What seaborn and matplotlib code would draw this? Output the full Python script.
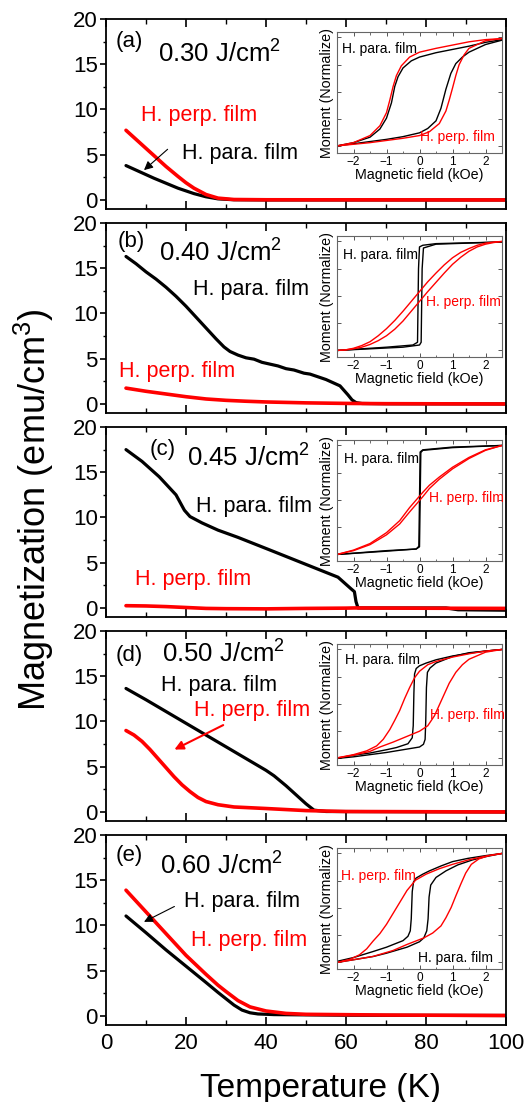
import matplotlib
matplotlib.use("Agg")
import matplotlib.pyplot as plt
from matplotlib.ticker import MultipleLocator
import pandas as pd
import seaborn as sns

sns.set_style("ticks")
plt.rcParams['font.family'] = ['Liberation Sans', 'DejaVu Sans']
plt.rcParams.update({
    "text.color": "black", "axes.labelcolor": "black",
    "xtick.color": "black", "ytick.color": "black", "axes.edgecolor": "black",
    "mathtext.fontset": "custom", "mathtext.rm": "Liberation Sans",
    "mathtext.it": "Liberation Sans:italic", "mathtext.bf": "Liberation Sans:bold",
})

RED = "#ff0000"
BLACK = "#000000"

# ---------------- M(T) curves, Temperature (K) vs Magnetization (emu/cm3) ----------------
# (a) 0.30 J/cm2
Ta_para = [5, 8, 10, 12, 15, 18, 20, 22, 25, 28, 32, 40, 100]
Ma_para = [3.8, 3.2, 2.8, 2.4, 1.85, 1.3, 1.0, 0.7, 0.35, 0.12, 0.02, 0.0, 0.0]
Ta_perp = [5, 8, 10, 12, 15, 18, 20, 22, 25, 28, 32, 40, 100]
Ma_perp = [7.7, 6.5, 5.7, 4.9, 3.7, 2.6, 1.9, 1.3, 0.6, 0.2, 0.05, 0.02, 0.0]

# (b) 0.40 J/cm2
Tb_para = [5, 7.5, 10, 12.5, 15, 17.5, 20, 22.5, 25, 27.5, 29.5, 31, 33, 35, 37, 39, 41, 43,
           45, 47, 49.5, 51, 53, 55, 57, 58.5, 59.5, 60.5, 61.5, 62.5, 64, 70, 100]
Mb_para = [16.3, 15.5, 14.6, 13.8, 12.9, 11.9, 10.8, 9.6, 8.4, 7.2, 6.3, 5.8, 5.4, 5.1, 4.95,
           4.6, 4.4, 4.2, 3.9, 3.75, 3.4, 3.3, 3.0, 2.7, 2.3, 2.0, 1.5, 1.0, 0.45, 0.15, 0.05,
           0.02, 0.0]
Tb_perp = [5, 10, 15, 20, 25, 30, 35, 40, 50, 60, 70, 100]
Mb_perp = [1.75, 1.4, 1.1, 0.8, 0.55, 0.4, 0.3, 0.22, 0.12, 0.06, 0.03, 0.0]

# (c) 0.45 J/cm2
Tc_para = [5, 9, 13.3, 17.5, 19.6, 21, 24, 28, 33, 41, 49.5, 58, 61.3, 62.1, 62.5, 63, 70, 85,
           88, 100]
Mc_para = [17.5, 16.2, 14.5, 12.5, 10.8, 10.1, 9.4, 8.6, 7.8, 6.4, 4.9, 3.4, 2.1, 1.8, 0.7,
           0.0, 0.0, 0.0, -0.2, -0.25]
Tc_perp = [5, 10, 15, 20, 25, 30, 40, 50, 60, 62, 80, 100]
Mc_perp = [0.25, 0.22, 0.15, 0.05, -0.05, -0.08, -0.1, -0.05, -0.02, 0.0, -0.03, -0.05]

# (d) 0.50 J/cm2
Td_para = [5, 10, 20, 30, 40, 42, 45, 48, 50, 52, 55, 100]
Md_para = [13.65, 12.4, 9.8, 7.2, 4.6, 4.0, 2.9, 1.7, 0.9, 0.2, 0.05, 0.0]
Td_perp = [5, 7, 9, 11, 13, 15, 17, 19, 21, 23, 25, 28, 32, 40, 50, 60, 100]
Md_perp = [9.0, 8.5, 7.8, 6.9, 5.9, 4.9, 3.9, 3.0, 2.25, 1.6, 1.15, 0.8, 0.55, 0.38, 0.15,
           0.05, 0.0]

# (e) 0.60 J/cm2
Te_para = [5, 10, 15, 20, 25, 28, 30, 32, 34, 36, 38, 42, 60, 100]
Me_para = [11.05, 9.2, 7.3, 5.5, 3.7, 2.6, 1.9, 1.2, 0.65, 0.35, 0.22, 0.15, 0.08, 0.05]
Te_perp = [5, 10, 15, 20, 25, 28, 30, 33, 36, 40, 45, 50, 70, 100]
Me_perp = [13.9, 11.5, 9.1, 6.7, 4.6, 3.4, 2.7, 1.7, 1.0, 0.55, 0.28, 0.18, 0.1, 0.05]

# ---------------- M(H) loops, field (kOe) vs normalized moment ----------------
# each loop: descending branch (from +H) and ascending branch (from -H)
la_para_dn_H = [2.5, 2.0, 1.5, 1.0, 0.5, 0.0, -0.25, -0.5, -0.65, -0.75, -0.85, -1.0, -1.2,
                -1.5, -2.0, -2.5]
la_para_dn_M = [0.96, 0.91, 0.84, 0.78, 0.72, 0.64, 0.57, 0.44, 0.28, 0.1, -0.2, -0.48, -0.68,
                -0.83, -0.93, -0.99]
la_para_up_H = [-2.5, -2, -1.5, -1, -0.5, 0, 0.25, 0.5, 0.65, 0.8, 0.95, 1.1, 1.3, 1.5, 2, 2.5]
la_para_up_M = [-0.99, -0.95, -0.91, -0.87, -0.82, -0.75, -0.67, -0.53, -0.3, 0.05, 0.34, 0.52,
                0.64, 0.73, 0.87, 0.95]
la_perp_dn_H = [2.5, 2, 1.5, 1, 0.5, 0, -0.3, -0.55, -0.7, -0.8, -0.9, -1.0, -1.2, -1.5, -2,
                -2.5]
la_perp_dn_M = [0.98, 0.96, 0.92, 0.86, 0.8, 0.73, 0.64, 0.48, 0.3, 0.1, -0.15, -0.38, -0.62,
                -0.8, -0.93, -0.99]
la_perp_up_H = [-2.5, -2, -1.5, -1, -0.5, 0, 0.3, 0.6, 0.8, 0.9, 1.0, 1.1, 1.2, 1.35, 1.5, 2,
                2.5]
la_perp_up_M = [-0.99, -0.96, -0.93, -0.89, -0.85, -0.8, -0.73, -0.58, -0.35, -0.15, 0.07, 0.3,
                0.5, 0.68, 0.8, 0.94, 0.98]

lb_para_dn_H = [2.5, 0.5, 0.1, 0.0, -0.03, -0.06, -0.2, -1, -2.5]
lb_para_dn_M = [0.99, 0.96, 0.93, 0.9, 0.5, -0.85, -0.9, -0.94, -1.0]
lb_para_up_H = [-2.5, -0.5, 0.0, 0.05, 0.08, 0.12, 0.5, 2.5]
lb_para_up_M = [-1.0, -0.94, -0.9, -0.85, 0.5, 0.88, 0.95, 0.99]
lb_perp_dn_H = [2.5, 2.25, 2, 1.75, 1.5, 1.25, 1, 0.75, 0.5, 0.25, 0, -0.25, -0.5, -0.75, -1,
                -1.25, -1.5, -1.75, -2, -2.25, -2.5]
lb_perp_dn_M = [1.0, 0.99, 0.97, 0.93, 0.87, 0.8, 0.7, 0.57, 0.42, 0.26, 0.08, -0.1, -0.28,
                -0.45, -0.6, -0.73, -0.84, -0.91, -0.96, -0.99, -1.0]
lb_perp_up_H = [-2.5, -2.25, -2, -1.75, -1.5, -1.25, -1, -0.75, -0.5, -0.25, 0, 0.25, 0.5, 0.75,
                1, 1.25, 1.5, 1.75, 2, 2.25, 2.5]
lb_perp_up_M = [-1.0, -0.99, -0.97, -0.94, -0.89, -0.82, -0.73, -0.61, -0.46, -0.28, -0.1,
                0.08, 0.25, 0.42, 0.58, 0.71, 0.82, 0.9, 0.95, 0.98, 1.0]

lc_para_dn_H = [2.5, 1, 0.1, 0.02, -0.02, -0.1, -1, -2.5]
lc_para_dn_M = [1.0, 0.97, 0.92, 0.88, -0.85, -0.9, -0.93, -1.0]
lc_para_up_H = [-2.5, -1, -0.1, 0.0, 0.04, 0.1, 1, 2.5]
lc_para_up_M = [-1.0, -0.94, -0.9, -0.86, 0.87, 0.91, 0.96, 1.0]
lc_perp_dn_H = [2.5, 2.0, 1.5, 1.0, 0.6, 0.3, 0.1, -0.1, -0.3, -0.6, -1.0, -1.5, -2, -2.5]
lc_perp_dn_M = [1.0, 0.92, 0.78, 0.6, 0.42, 0.27, 0.14, 0.0, -0.14, -0.38, -0.6, -0.8, -0.92,
                -1.0]
lc_perp_up_H = [-2.5, -2, -1.5, -1, -0.6, -0.3, -0.1, 0.1, 0.3, 0.6, 1.0, 1.5, 2, 2.5]
lc_perp_up_M = [-1.0, -0.93, -0.82, -0.64, -0.44, -0.22, -0.08, 0.06, 0.21, 0.38, 0.57, 0.76,
                0.91, 1.0]

ld_para_dn_H = [2.5, 2, 1.5, 1, 0.5, 0.2, 0, -0.1, -0.15, -0.17, -0.19, -0.22, -0.35, -0.7, -1,
                -1.5, -2, -2.5]
ld_para_dn_M = [1.0, 0.97, 0.93, 0.88, 0.81, 0.75, 0.7, 0.65, 0.55, 0.2, -0.4, -0.62, -0.73,
                -0.8, -0.84, -0.9, -0.94, -1.0]
ld_para_up_H = [-2.5, -2, -1.5, -1, -0.5, 0, 0.12, 0.17, 0.19, 0.21, 0.24, 0.32, 0.5, 1, 1.5,
                2, 2.5]
ld_para_up_M = [-1.0, -0.97, -0.93, -0.89, -0.84, -0.79, -0.74, -0.65, -0.3, 0.3, 0.58, 0.66,
                0.75, 0.87, 0.94, 0.97, 1.0]
ld_perp_dn_H = [2.5, 2, 1.5, 1, 0.5, 0.25, 0, -0.15, -0.3, -0.45, -0.6, -0.75, -0.9, -1.1, -1.3,
                -1.6, -2, -2.5]
ld_perp_dn_M = [1.0, 0.97, 0.92, 0.86, 0.78, 0.72, 0.6, 0.48, 0.3, 0.1, -0.12, -0.3, -0.47,
                -0.65, -0.77, -0.86, -0.93, -0.99]
ld_perp_up_H = [-2.5, -2, -1.5, -1.2, -0.8, -0.4, 0, 0.25, 0.45, 0.6, 0.75, 0.9, 1.1, 1.3, 1.5,
                2, 2.5]
ld_perp_up_M = [-0.99, -0.94, -0.87, -0.79, -0.7, -0.6, -0.5, -0.4, -0.22, -0.02, 0.18, 0.38,
                0.58, 0.72, 0.82, 0.95, 1.0]

le_para_dn_H = [2.5, 2, 1.47, 1, 0.65, 0.3, 0.1, -0.1, -0.18, -0.22, -0.25, -0.28, -0.35, -0.5,
                -1, -1.41, -2, -2.5]
le_para_dn_M = [1.0, 0.96, 0.91, 0.85, 0.77, 0.68, 0.62, 0.55, 0.48, 0.3, -0.2, -0.42, -0.52,
                -0.6, -0.72, -0.8, -0.91, -0.98]
le_para_up_H = [-2.5, -2, -1.4, -1, -0.38, 0, 0.13, 0.22, 0.26, 0.29, 0.34, 0.5, 0.8, 1.16,
                1.6, 2, 2.5]
le_para_up_M = [-1.0, -0.95, -0.89, -0.83, -0.72, -0.62, -0.55, -0.42, -0.2, 0.2, 0.42, 0.56,
                0.68, 0.79, 0.88, 0.94, 1.0]
le_perp_dn_H = [2.5, 2, 1.47, 1, 0.6, 0.2, -0.12, -0.38, -0.55, -0.69, -0.85, -1.0, -1.2, -1.41,
                -1.6, -1.82, -2.1, -2.5]
le_perp_dn_M = [1.0, 0.95, 0.88, 0.8, 0.72, 0.62, 0.51, 0.32, 0.15, 0.01, -0.15, -0.3, -0.47,
                -0.61, -0.75, -0.86, -0.94, -1.0]
le_perp_up_H = [-2.5, -2, -1.41, -0.8, -0.38, 0.13, 0.4, 0.65, 0.8, 0.96, 1.1, 1.26, 1.4, 1.57,
                1.8, 2.1, 2.5]
le_perp_up_M = [-1.0, -0.95, -0.89, -0.78, -0.67, -0.55, -0.46, -0.33, -0.18, 0.01, 0.22, 0.45,
                0.64, 0.8, 0.9, 0.96, 1.0]

panels = [
    dict(tag="(a)", fluence="0.30 J/cm$^{2}$",
         para=(Ta_para, Ma_para), perp=(Ta_perp, Ma_perp),
         loops=[(la_para_dn_H, la_para_dn_M, la_para_up_H, la_para_up_M, BLACK),
                (la_perp_dn_H, la_perp_dn_M, la_perp_up_H, la_perp_up_M, RED)],
         tag_xy=(2.4, 17.5), flu_xy=(13.1, 16.1),
         para_txt=(19.0, 5.1), perp_txt=(8.7, 9.3),
         arrow=((15.4, 5.6), (9.5, 3.3), BLACK, 0.8),
         ipara=(-2.35, 0.79), iperp=(0.02, -0.83)),
    dict(tag="(b)", fluence="0.40 J/cm$^{2}$",
         para=(Tb_para, Mb_para), perp=(Tb_perp, Mb_perp),
         loops=[(lb_para_dn_H, lb_para_dn_M, lb_para_up_H, lb_para_up_M, BLACK),
                (lb_perp_dn_H, lb_perp_dn_M, lb_perp_up_H, lb_perp_up_M, RED)],
         tag_xy=(2.8, 18.0), flu_xy=(13.3, 16.7),
         para_txt=(21.7, 12.6), perp_txt=(3.2, 3.6), arrow=None,
         ipara=(-2.32, 0.75), iperp=(0.2, -0.11)),
    dict(tag="(c)", fluence="0.45 J/cm$^{2}$",
         para=(Tc_para, Mc_para), perp=(Tc_perp, Mc_perp),
         loops=[(lc_para_dn_H, lc_para_dn_M, lc_para_up_H, lc_para_up_M, BLACK),
                (lc_perp_dn_H, lc_perp_dn_M, lc_perp_up_H, lc_perp_up_M, RED)],
         tag_xy=(10.8, 17.5), flu_xy=(20.3, 16.6),
         para_txt=(22.4, 11.2), perp_txt=(7.2, 3.1), arrow=None,
         ipara=(-2.3, 0.76), iperp=(0.3, 0.03)),
    dict(tag="(d)", fluence="0.50 J/cm$^{2}$",
         para=(Td_para, Md_para), perp=(Td_perp, Md_perp),
         loops=[(ld_para_dn_H, ld_para_dn_M, ld_para_up_H, ld_para_up_M, BLACK),
                (ld_perp_dn_H, ld_perp_dn_M, ld_perp_up_H, ld_perp_up_M, RED)],
         tag_xy=(2.4, 17.3), flu_xy=(14.1, 17.5),
         para_txt=(13.7, 14.0), perp_txt=(21.9, 11.25),
         arrow=((29.3, 9.6), (17.1, 6.9), RED, 1.5),
         ipara=(-2.25, 0.81), iperp=(0.32, -0.21)),
    dict(tag="(e)", fluence="0.60 J/cm$^{2}$",
         para=(Te_para, Me_para), perp=(Te_perp, Me_perp),
         loops=[(le_para_dn_H, le_para_dn_M, le_para_up_H, le_para_up_M, BLACK),
                (le_perp_dn_H, le_perp_dn_M, le_perp_up_H, le_perp_up_M, RED)],
         tag_xy=(2.4, 17.7), flu_xy=(13.5, 16.6),
         para_txt=(19.6, 12.7), perp_txt=(21.3, 8.35),
         arrow=((17.1, 12.1), (9.5, 10.4), BLACK, 0.8),
         ipara=(-0.06, -0.91), iperp=(-2.38, 0.58)),
]

W, H = 532, 1102
fig = plt.figure(figsize=(W / 100, H / 100), dpi=100)

AX_L, AX_R = 106, 506
PANEL_H = 190
TOPS = [19, 223, 427, 631, 835]
IN_L, IN_R = 337, 502
IN_DY, IN_H = 13, 121


def frac_box(x0, y0, x1, y1):
    return [x0 / W, 1 - y1 / H, (x1 - x0) / W, (y1 - y0) / H]


for i, p in enumerate(panels):
    top = TOPS[i]
    ax = fig.add_axes(frac_box(AX_L, top, AX_R, top + PANEL_H))
    dfp = pd.DataFrame({"T": p["perp"][0], "M": p["perp"][1]})
    dfa = pd.DataFrame({"T": p["para"][0], "M": p["para"][1]})
    sns.lineplot(data=dfa, x="T", y="M", ax=ax, color=BLACK, lw=2.3,
                 estimator=None, sort=False)
    sns.lineplot(data=dfp, x="T", y="M", ax=ax, color=RED, lw=2.6,
                 estimator=None, sort=False)
    ax.set_xlim(0, 100)
    ax.set_ylim(-1, 20)
    ax.xaxis.set_major_locator(MultipleLocator(20))
    ax.xaxis.set_minor_locator(MultipleLocator(10))
    ax.yaxis.set_major_locator(MultipleLocator(5))
    ax.yaxis.set_minor_locator(MultipleLocator(2.5))
    ax.tick_params(axis="x", which="both", direction="in", top=True, bottom=True,
                   labelsize=16, pad=6)
    ax.tick_params(axis="x", which="major", length=6, width=1.2)
    ax.tick_params(axis="x", which="minor", length=3.5, width=1.0)
    ax.tick_params(axis="y", which="both", direction="out", left=True, right=False,
                   labelsize=16, pad=2)
    ax.tick_params(axis="y", which="major", length=4, width=1.2)
    ax.tick_params(axis="y", which="minor", length=2.5, width=1.0)
    if i < 4:
        ax.tick_params(axis="x", labelbottom=False)
    for s in ax.spines.values():
        s.set_visible(True)
        s.set_linewidth(1.3)
        s.set_color(BLACK)
    ax.set_xlabel("")
    ax.set_ylabel("")

    ax.text(*p["tag_xy"], p["tag"], fontsize=16, ha="left", va="center")
    ax.text(*p["flu_xy"], p["fluence"], fontsize=18.5, ha="left", va="center")
    ax.text(*p["para_txt"], "H. para. film", fontsize=15.5, ha="left", va="center",
            color=BLACK)
    ax.text(*p["perp_txt"], "H. perp. film", fontsize=15.5, ha="left", va="center",
            color=RED)
    if p["arrow"] is not None:
        tail, head, col, lw = p["arrow"]
        ax.annotate("", xy=head, xytext=tail,
                    arrowprops=dict(arrowstyle="-|>", color=col, lw=lw,
                                    mutation_scale=13, shrinkA=0, shrinkB=0))

    # hysteresis loop inset
    ins = fig.add_axes(frac_box(IN_L, top + IN_DY, IN_R, top + IN_DY + IN_H))
    for dnH, dnM, upH, upM, col in p["loops"]:
        for hh, mm in ((dnH, dnM), (upH, upM)):
            dfl = pd.DataFrame({"H": hh, "M": mm})
            sns.lineplot(data=dfl, x="H", y="M", ax=ins, color=col, lw=1.0,
                         estimator=None, sort=False)
    ins.set_xlim(-2.5, 2.5)
    ins.set_ylim(-1.12, 1.1)
    ins.xaxis.set_major_locator(MultipleLocator(1))
    ins.xaxis.set_minor_locator(MultipleLocator(0.5))
    ins.yaxis.set_major_locator(MultipleLocator(0.5))
    ins.tick_params(axis="both", which="both", direction="in", top=True, right=True,
                    colors="#555555", labelcolor=BLACK)
    ins.tick_params(axis="both", which="major", length=3, width=0.7)
    ins.tick_params(axis="both", which="minor", length=1.8, width=0.6)
    ins.tick_params(axis="x", labelsize=8.5, pad=2.5)
    ins.tick_params(axis="y", labelleft=False)
    for s in ins.spines.values():
        s.set_visible(True)
        s.set_linewidth(0.8)
        s.set_color("#666666")
    ins.set_xlabel("Magnetic field (kOe)", fontsize=10.3, labelpad=0)
    ins.set_ylabel("Moment (Normalize)", fontsize=10.3, labelpad=2)
    ins.text(*p["ipara"], "H. para. film", fontsize=10, ha="left", va="center",
             color=BLACK)
    ins.text(*p["iperp"], "H. perp. film", fontsize=10, ha="left", va="center",
             color=RED)

fig.text(321 / W, 1 - 1097 / H, "Temperature (K)", fontsize=24, ha="center",
         va="baseline")
fig.text(34 / W, 1 - 510 / H, "Magnetization (emu/cm$^{3}$)", fontsize=26,
         ha="center", va="center", rotation=90)

fig.savefig("out.png", dpi=100)
